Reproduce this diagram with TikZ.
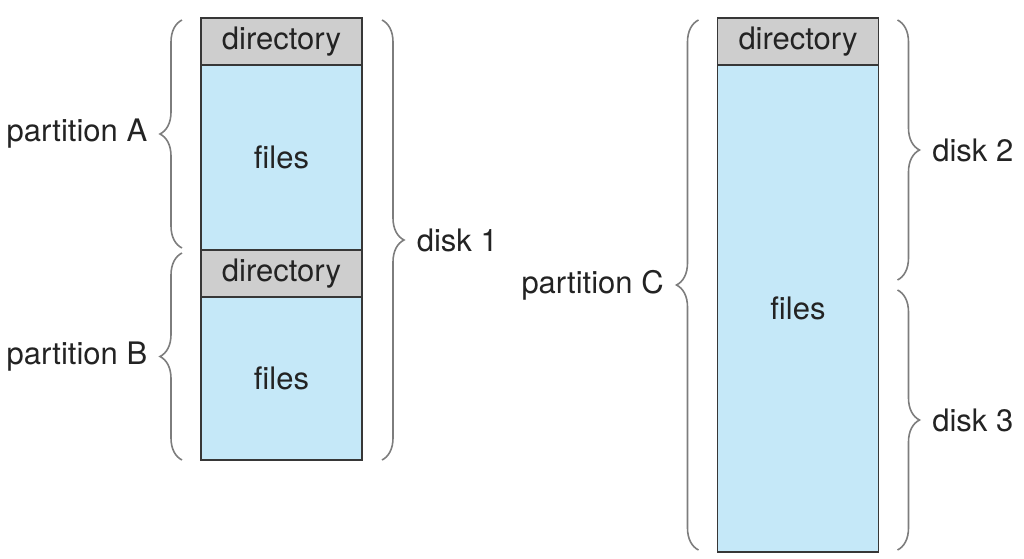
\documentclass[tikz,border=0pt]{standalone}
\usepackage{fontspec}
\setmainfont{TeX Gyre Heros}
\usetikzlibrary{positioning,calc,decorations.pathreplacing}
\definecolor{dirgray}{RGB}{206,206,206}
\definecolor{fileblue}{RGB}{197,232,248}
\definecolor{edgegray}{RGB}{55,55,55}
\definecolor{bracegray}{RGB}{125,125,125}
\definecolor{textgray}{RGB}{35,35,35}
\tikzset{
  block/.style={draw=edgegray, line width=0.75pt, minimum width=80.5pt, inner sep=0pt, outer sep=0pt, text=textgray},
  dirbox/.style={block, fill=dirgray, minimum height=23.5pt},
  filebox/.style={block, fill=fileblue},
  curly/.style={draw=bracegray, line width=0.8pt, decorate, decoration={brace, amplitude=11pt}},
  tag/.style={inner sep=0pt, text=textgray}
}
\begin{document}
\begin{tikzpicture}[x=0.5pt,y=-0.5pt,font=\fontsize{15.5}{18}\selectfont]
    \useasboundingbox (0,0) rectangle (1024,558);

    % disk 1: partitions A and B
    \node[dirbox] (dirA) at (281.5,41.5) {directory};
    \node[filebox, minimum height=92.5pt, below=0pt of dirA] (filesA) {files};
    \node[dirbox, below=0pt of filesA] (dirB) {directory};
    \node[filebox, minimum height=81.5pt, below=0pt of dirB] (filesB) {files};

    % partition C over disks 2 and 3
    \node[dirbox] (dirC) at (798,41.5) {directory};
    \node[filebox, minimum height=243.5pt, below=0pt of dirC] (filesC) {files};
    \coordinate (split) at ($(filesC.east)+(19,-23.5)$);

    \draw[curly] ($(filesA.south west)+(-19,-2)$) -- ($(dirA.north west)+(-19,2)$) node[midway, tag, left=17pt] (labA) {partition A};
    \draw[curly] ($(filesB.south west)+(-19,0)$) -- ($(dirB.north west)+(-19,3)$) node[midway, tag, left=17pt] (labB) {partition B};
    \draw[curly] ($(dirA.north east)+(20,2)$) -- ($(filesB.south east)+(20,0)$) node[midway, tag, right=17pt] (lab1) {disk 1};

    \draw[curly] ($(filesC.south west)+(-19,-2)$) -- ($(dirC.north west)+(-19,2)$) node[midway, tag, left=17pt] (labC) {partition C};
    \draw[curly] ($(dirC.north east)+(19,2)$) -- ($(split)+(0,-5)$) node[midway, tag, right=17pt] (lab2) {disk 2};
    \draw[curly] ($(split)+(0,5)$) -- ($(filesC.south east)+(19,-2)$) node[midway, tag, right=17pt] (lab3) {disk 3};
\end{tikzpicture}
\end{document}
